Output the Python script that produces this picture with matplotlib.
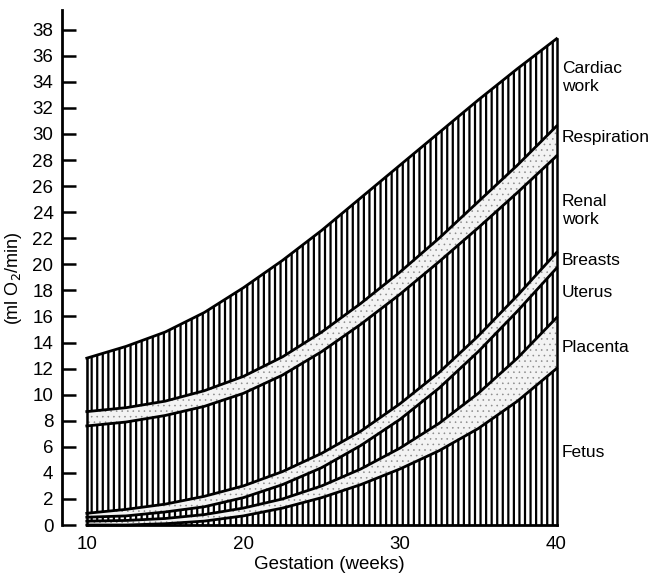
import numpy as np
import matplotlib
matplotlib.use('Agg')
import matplotlib.pyplot as plt

plt.rcParams['font.family'] = ['Liberation Sans', 'DejaVu Sans']

# Gestation (weeks) and O2 consumption of each component (ml O2/min), stacked bottom to top
weeks = [10, 12.5, 15, 17.5, 20, 22.5, 25, 27.5, 30, 32.5, 35, 37.5, 40]
fetus = [0.0, 0.0, 0.1, 0.3, 0.7, 1.3, 2.1, 3.1, 4.3, 5.7, 7.4, 9.5, 12.0]
placenta = [0.3, 0.35, 0.4, 0.5, 0.6, 0.7, 0.9, 1.2, 1.6, 2.1, 2.7, 3.3, 3.9]
uterus = [0.3, 0.35, 0.5, 0.6, 0.8, 1.1, 1.4, 1.8, 2.2, 2.7, 3.2, 3.6, 3.8]
breasts = [0.3, 0.5, 0.6, 0.8, 0.9, 1.0, 1.1, 1.1, 1.2, 1.2, 1.2, 1.2, 1.2]
renal = [6.7, 6.7, 6.8, 6.9, 7.1, 7.4, 7.8, 8.2, 8.4, 8.5, 8.3, 7.9, 7.4]
respiration = [1.1, 1.1, 1.1, 1.2, 1.3, 1.4, 1.5, 1.6, 1.7, 1.8, 2.0, 2.1, 2.3]
cardiac = [4.1, 4.7, 5.3, 6.0, 6.8, 7.4, 7.8, 8.1, 8.2, 8.1, 7.8, 7.4, 6.7]

components = [fetus, placenta, uterus, breasts, renal, respiration, cardiac]
names = ['Fetus', 'Placenta', 'Uterus', 'Breasts', 'Renal\nwork', 'Respiration', 'Cardiac\nwork']
hatched = [True, False, True, False, True, False, True]
label_y = [5.6, 13.6, 17.8, 20.3, 24.1, 29.7, 34.3]

yticks = list(range(0, 39, 2))
xticks = [10, 20, 30, 40]

x = np.array(weeks)
tops = np.cumsum(np.array(components), axis=0)
bottoms = np.vstack([np.zeros_like(x), tops[:-1]])

fig = plt.figure(figsize=(6.57, 5.76), dpi=100)
ax = fig.add_axes([0.094, 0.0885, 0.815, 0.894])

for i in range(len(components)):
    if hatched[i]:
        with plt.rc_context({'hatch.linewidth': 1.6}):
            ax.fill_between(x, bottoms[i], tops[i], facecolor='white', edgecolor='black',
                            hatch='|||', linewidth=0)
    else:
        with plt.rc_context({'hatch.linewidth': 0.4}):
            ax.fill_between(x, bottoms[i], tops[i], facecolor='#f3f3f3', edgecolor='#8a8a8a',
                            hatch='...', linewidth=0)
    ax.text(40.35, label_y[i], names[i], fontsize=12.5, ha='left', va='center',
            linespacing=1.25)

# boundary curves and outline
for top in tops:
    ax.plot(x, top, color='black', lw=2.0, clip_on=False)
ax.plot(x, np.zeros_like(x), color='black', lw=2.0, clip_on=False)
ax.plot([x[0], x[0]], [0, tops[-1][0]], color='black', lw=1.8, clip_on=False)
ax.plot([x[-1], x[-1]], [0, tops[-1][-1]], color='black', lw=1.8, clip_on=False)

ax.set_xlim(8.4, 42.6)
ax.set_ylim(0, 39.5)
ax.set_yticks(yticks)
ax.set_xticks(xticks)
ax.tick_params(axis='y', direction='in', length=10, width=1.8, labelsize=13.5, pad=6)
ax.tick_params(axis='x', length=0, labelsize=13.5, pad=8)
for s in ['top', 'right', 'bottom']:
    ax.spines[s].set_visible(False)
ax.spines['left'].set_linewidth(2.0)

ax.set_xlabel('Gestation (weeks)', fontsize=13.5, labelpad=2)
ax.set_ylabel('(ml O$_2$/min)', fontsize=13, labelpad=2)
ax.yaxis.set_label_coords(-0.07, 0.48)

fig.savefig('out.png', dpi=100)
